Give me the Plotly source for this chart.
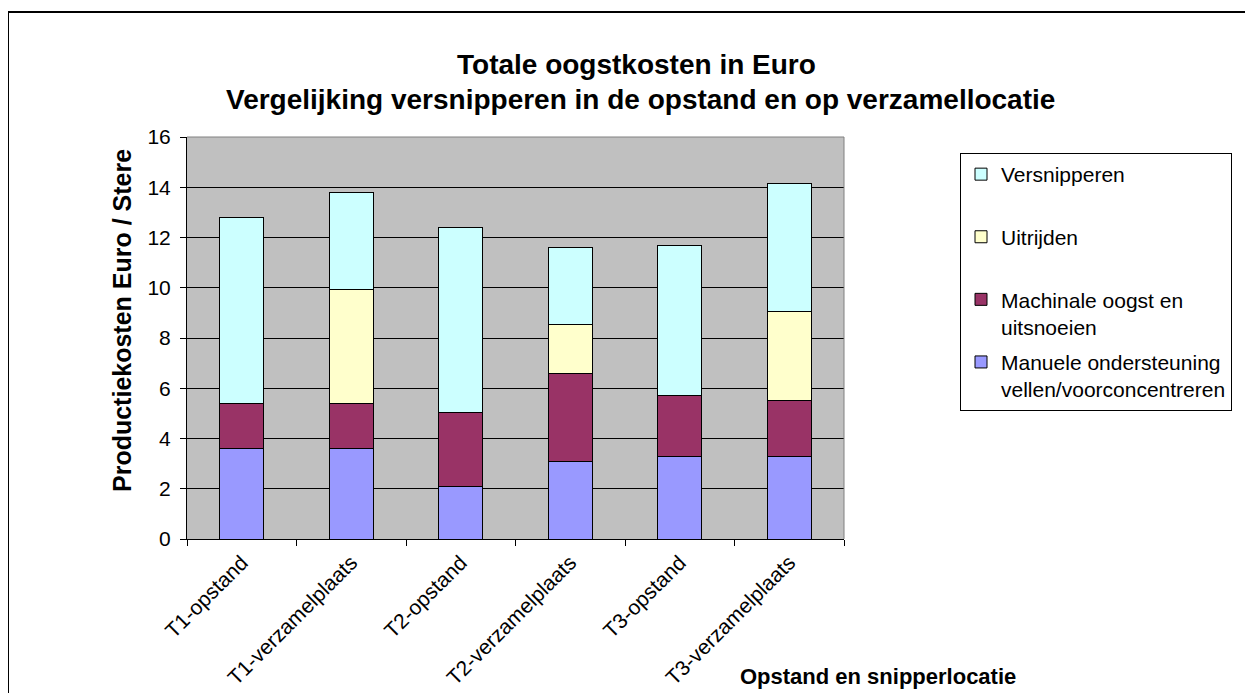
import plotly.graph_objects as go

categories = ["T1-opstand", "T1-verzamelplaats", "T2-opstand", "T2-verzamelplaats", "T3-opstand", "T3-verzamelplaats"]
manuele = [3.6, 3.6, 2.1, 3.1, 3.3, 3.3]
machinale = [1.8, 1.8, 2.95, 3.5, 2.4, 2.2]
uitrijden = [0, 4.55, 0, 1.95, 0, 3.55]
versnipperen = [7.4, 3.85, 7.35, 3.05, 6.0, 5.1]

series_names = ["Manuele ondersteuning<br>vellen/voorconcentreren", "Machinale oogst en<br>uitsnoeien", "Uitrijden<br> ", "Versnipperen<br> "]
series_values = [manuele, machinale, uitrijden, versnipperen]
series_colors = ["#9999FF", "#993366", "#FFFFCC", "#CCFFFF"]
legend_ranks = [4, 3, 2, 1]

FONT = "Arial, Liberation Sans, sans-serif"

fig = go.Figure()
for name, vals, col, rk in zip(series_names, series_values, series_colors, legend_ranks):
    fig.add_trace(go.Bar(x=categories, y=vals, name=name, legendgroup=name, legendrank=rk,
                         marker=dict(color=col, line=dict(color="black", width=1)),
                         width=0.4))

# screen pixel geometry (page has an 8px body margin)
OFF = 8
L, R, T, B = 187, 844, 137, 539
W, H = 1253 - OFF, 693 - OFF
pw, ph = R - L, B - T

def px(x):
    return (x - L) / pw

def py(y):
    return (B - y) / ph

fig.update_layout(
    width=W, height=H,
    margin=dict(l=L - OFF, r=W - (R - OFF), t=T - OFF, b=H - (B - OFF), pad=0, autoexpand=False),
    paper_bgcolor="white", plot_bgcolor="#C0C0C0",
    barmode="stack", bargap=0.6,
    font=dict(family=FONT, color="black", size=21),
    showlegend=True,
    legend=dict(x=px(960), y=py(153), xanchor="left", yanchor="top",
                bgcolor="white", bordercolor="black", borderwidth=1,
                traceorder="grouped", tracegroupgap=5, valign="top",
                font=dict(family=FONT, size=21, color="black")),
    xaxis=dict(type="category", showline=True, linecolor="black", linewidth=1,
               ticks="outside", ticklen=6, tickcolor="black", tickson="boundaries",
               tickangle=-45, ticklabelstandoff=2, automargin=False,
               tickfont=dict(size=21, family=FONT, color="black"),
               showgrid=False, zeroline=False, fixedrange=True),
    yaxis=dict(range=[0, 16], dtick=2, showline=True, linecolor="black", linewidth=1,
               ticks="outside", ticklen=6, tickcolor="black", ticklabelstandoff=5, automargin=False,
               tickfont=dict(size=21, family=FONT, color="black"),
               showgrid=True, gridcolor="black", gridwidth=1, zeroline=False),
)

annotations = [
    dict(text="<b>Totale oogstkosten in Euro</b>", x=px(636), y=py(64), xref="paper", yref="paper",
         xanchor="center", yanchor="middle", showarrow=False, font=dict(size=28, family=FONT)),
    dict(text="<b>Vergelijking versnipperen in de opstand en op verzamellocatie</b>", x=px(640), y=py(100),
         xref="paper", yref="paper", xanchor="center", yanchor="middle", showarrow=False,
         font=dict(size=28, family=FONT)),
    dict(text="<b>Productiekosten Euro / Stere</b>", x=px(122), y=py(321), xref="paper", yref="paper",
         xanchor="center", yanchor="middle", textangle=-90, showarrow=False, font=dict(size=25, family=FONT)),
    dict(text="<b>Opstand en snipperlocatie</b>", x=px(878), y=py(676), xref="paper", yref="paper",
         xanchor="center", yanchor="middle", showarrow=False, font=dict(size=22, family=FONT)),
]
fig.update_layout(annotations=annotations)

shapes = [
    # outer chart border
    dict(type="rect", xref="paper", yref="paper", x0=px(8), x1=px(1252), y0=py(720), y1=py(12),
         line=dict(color="black", width=2), fillcolor="rgba(0,0,0,0)", layer="below"),
    # plot area frame (top and right), grey
    dict(type="line", xref="paper", yref="paper", x0=0, x1=1, y0=1, y1=1, line=dict(color="#808080", width=1)),
    dict(type="line", xref="paper", yref="paper", x0=1, x1=1, y0=0, y1=1, line=dict(color="#808080", width=1)),
]
fig.update_layout(shapes=shapes)

fig.write_html("out.html")
